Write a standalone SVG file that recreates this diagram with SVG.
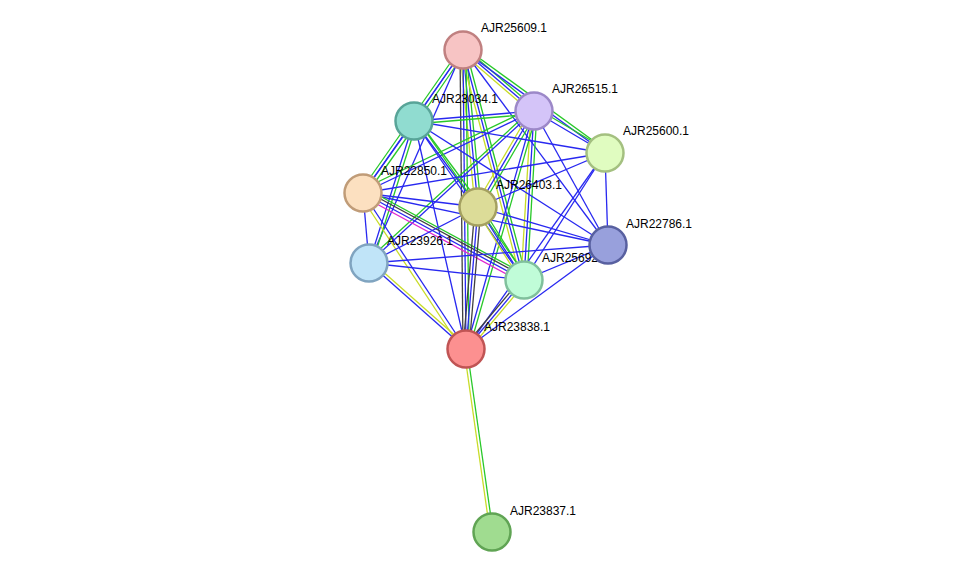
<svg xmlns="http://www.w3.org/2000/svg" width="975" height="578" viewBox="0 0 975 578">
<style>
.b{stroke:#2828f0;stroke-width:1.3}
.g{stroke:#28c828;stroke-width:1.3}
.y{stroke:#c8dc28;stroke-width:1.3}
.k{stroke:#404040;stroke-width:1.3}
.m{stroke:#e028d0;stroke-width:1.3}
.n circle{stroke-width:2.5}
text{font-family:"Liberation Sans",Arial,sans-serif;font-size:12px;fill:#000}
</style>
<rect width="975" height="578" fill="#fff"/>
<g id="edges" fill="none">
<line class="b" x1="463" y1="50" x2="534" y2="111"/><line class="g" x1="465" y1="48" x2="536" y2="109"/><line class="y" x1="461" y1="52" x2="532" y2="113"/>
<line class="b" x1="463" y1="50" x2="414" y2="121"/><line class="g" x1="466" y1="51" x2="417" y2="122"/>
<line class="b" x1="463" y1="50" x2="605" y2="153"/><line class="g" x1="464" y1="47" x2="606" y2="150"/>
<line class="b" x1="463" y1="50" x2="363" y2="193"/><line class="g" x1="460" y1="49" x2="360" y2="192"/>
<line class="b" x1="463" y1="50" x2="478" y2="207"/><line class="g" x1="466" y1="50" x2="481" y2="207"/><line class="y" x1="460" y1="50" x2="475" y2="207"/>
<line class="b" x1="463" y1="50" x2="608" y2="245"/>
<line class="b" x1="463" y1="50" x2="369" y2="263"/>
<line class="b" x1="463" y1="50" x2="524" y2="280"/><line class="g" x1="466" y1="50" x2="527" y2="280"/><line class="y" x1="460" y1="50" x2="521" y2="280"/>
<line class="b" x1="463" y1="50" x2="466" y2="349"/><line class="k" x1="460" y1="50" x2="463" y2="349"/><line class="g" x1="466" y1="50" x2="469" y2="349"/>
<line class="b" x1="534" y1="111" x2="414" y2="121"/><line class="g" x1="534" y1="114" x2="414" y2="124"/>
<line class="b" x1="534" y1="111" x2="605" y2="153"/><line class="g" x1="536" y1="108" x2="607" y2="150"/>
<line class="b" x1="534" y1="111" x2="363" y2="193"/><line class="g" x1="532" y1="108" x2="361" y2="190"/>
<line class="b" x1="534" y1="111" x2="478" y2="207"/><line class="g" x1="537" y1="112" x2="481" y2="208"/><line class="y" x1="531" y1="110" x2="475" y2="206"/>
<line class="b" x1="534" y1="111" x2="608" y2="245"/>
<line class="b" x1="534" y1="111" x2="369" y2="263"/><line class="g" x1="532" y1="109" x2="367" y2="261"/>
<line class="b" x1="534" y1="111" x2="524" y2="280"/><line class="g" x1="537" y1="111" x2="527" y2="280"/><line class="y" x1="531" y1="111" x2="521" y2="280"/>
<line class="b" x1="534" y1="111" x2="466" y2="349"/><line class="g" x1="537" y1="112" x2="469" y2="350"/>
<line class="b" x1="414" y1="121" x2="605" y2="153"/>
<line class="b" x1="414" y1="121" x2="363" y2="193"/><line class="g" x1="417" y1="123" x2="366" y2="195"/>
<line class="b" x1="414" y1="121" x2="478" y2="207"/><line class="g" x1="417" y1="119" x2="481" y2="205"/>
<line class="b" x1="414" y1="121" x2="608" y2="245"/>
<line class="b" x1="414" y1="121" x2="369" y2="263"/><line class="g" x1="417" y1="122" x2="372" y2="264"/>
<line class="b" x1="414" y1="121" x2="524" y2="280"/><line class="g" x1="417" y1="119" x2="527" y2="278"/>
<line class="b" x1="414" y1="121" x2="466" y2="349"/>
<line class="b" x1="605" y1="153" x2="363" y2="193"/>
<line class="b" x1="605" y1="153" x2="478" y2="207"/>
<line class="b" x1="605" y1="153" x2="608" y2="245"/>
<line class="b" x1="605" y1="153" x2="524" y2="280"/>
<line class="b" x1="605" y1="153" x2="466" y2="349"/>
<line class="b" x1="363" y1="193" x2="478" y2="207"/>
<line class="b" x1="363" y1="193" x2="608" y2="245"/>
<line class="b" x1="363" y1="193" x2="369" y2="263"/>
<line class="b" x1="363" y1="193" x2="524" y2="280"/><line class="k" x1="364" y1="190" x2="525" y2="277"/><line class="m" x1="362" y1="196" x2="523" y2="283"/><line class="g" x1="365" y1="188" x2="526" y2="275"/>
<line class="b" x1="363" y1="193" x2="466" y2="349"/><line class="y" x1="360" y1="195" x2="463" y2="351"/>
<line class="b" x1="478" y1="207" x2="608" y2="245"/>
<line class="b" x1="478" y1="207" x2="369" y2="263"/>
<line class="b" x1="478" y1="207" x2="524" y2="280"/><line class="g" x1="481" y1="206" x2="527" y2="279"/><line class="y" x1="475" y1="208" x2="521" y2="281"/>
<line class="b" x1="478" y1="207" x2="466" y2="349"/><line class="k" x1="475" y1="207" x2="463" y2="349"/><line class="k" x1="481" y1="207" x2="469" y2="349"/>
<line class="b" x1="608" y1="245" x2="369" y2="263"/>
<line class="b" x1="608" y1="245" x2="524" y2="280"/>
<line class="b" x1="608" y1="245" x2="466" y2="349"/>
<line class="b" x1="369" y1="263" x2="524" y2="280"/>
<line class="b" x1="369" y1="263" x2="466" y2="349"/><line class="y" x1="371" y1="261" x2="468" y2="347"/>
<line class="b" x1="524" y1="280" x2="466" y2="349"/><line class="k" x1="522" y1="278" x2="464" y2="347"/><line class="y" x1="526" y1="282" x2="468" y2="351"/>
<line class="g" x1="467" y1="349" x2="493" y2="532"/><line class="y" x1="464" y1="349" x2="490" y2="532"/>
</g>
<g id="AJR25609.1" class="n"><circle cx="463" cy="50" r="18.5" fill="#f7c4c4" stroke="#c08080"/><text x="481" y="32">AJR25609.1</text></g>
<g id="AJR26515.1" class="n"><circle cx="534" cy="111" r="18.5" fill="#d4c4f8" stroke="#9c88c8"/><text x="552" y="93">AJR26515.1</text></g>
<g id="AJR23034.1" class="n"><circle cx="414" cy="121" r="18.5" fill="#90dcd0" stroke="#58a498"/><text x="432" y="103">AJR23034.1</text></g>
<g id="AJR25600.1" class="n"><circle cx="605" cy="153" r="18.5" fill="#e0fcc0" stroke="#a4c080"/><text x="623" y="135">AJR25600.1</text></g>
<g id="AJR22850.1" class="n"><circle cx="363" cy="193" r="18.5" fill="#fce0c0" stroke="#c09c78"/><text x="381" y="175">AJR22850.1</text></g>
<g id="AJR26403.1" class="n"><circle cx="478" cy="207" r="18.5" fill="#dcdc98" stroke="#a4a060"/><text x="496" y="189">AJR26403.1</text></g>
<g id="AJR23926.1" class="n"><circle cx="369" cy="263" r="18.5" fill="#c0e4f8" stroke="#80a4c0"/><text x="387" y="245">AJR23926.1</text></g>
<g id="AJR25692.1" class="n"><circle cx="524" cy="280" r="18.5" fill="#c0fcd8" stroke="#80c09c"/><text x="542" y="262">AJR25692.1</text></g>
<g id="AJR22786.1" class="n"><circle cx="608" cy="245" r="18.5" fill="#98a0dc" stroke="#5860a0"/><text x="626" y="228">AJR22786.1</text></g>
<g id="AJR23838.1" class="n"><circle cx="466" cy="349" r="18.5" fill="#fc9090" stroke="#c05454"/><text x="484" y="331">AJR23838.1</text></g>
<g id="AJR23837.1" class="n"><circle cx="492" cy="532" r="18.5" fill="#a0dc90" stroke="#60a454"/><text x="510" y="515">AJR23837.1</text></g>
</svg>
